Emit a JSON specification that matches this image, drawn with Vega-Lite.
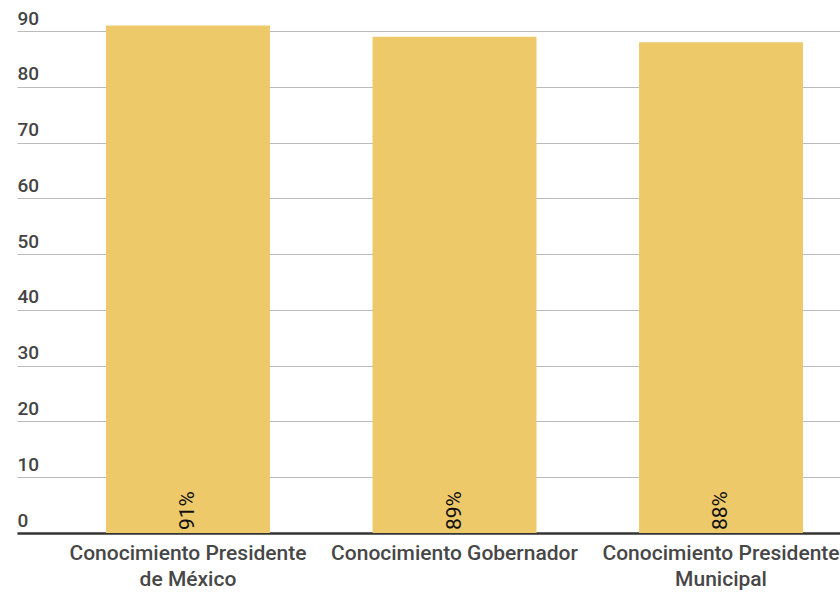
{
  "$schema": "https://vega.github.io/schema/vega-lite/v6.json",
  "autosize": "none",
  "padding": {"left": 17, "top": 20, "right": 0, "bottom": 60},
  "width": 823,
  "height": 513,
  "background": "white",
  "config": {"view": {"stroke": null}, "font": "Roboto"},
  "data": {"values": [
    {"categoria": "Conocimiento Presidente de México", "valor": 91},
    {"categoria": "Conocimiento Gobernador", "valor": 89},
    {"categoria": "Conocimiento Presidente Municipal", "valor": 88}
  ]},
  "encoding": {
    "x": {
      "field": "categoria", "type": "nominal", "sort": null,
      "scale": {"range": [0, 875], "paddingInner": 0.385, "paddingOuter": 0.334},
      "axis": {
        "title": null, "labelAngle": 0, "ticks": false,
        "domainColor": "#333", "domainWidth": 2.5,
        "labelFont": "Roboto", "labelFontSize": 21, "labelFontWeight": 500,
        "labelColor": "#474747", "labelPadding": 9, "labelLineHeight": 26,
        "labelBaseline": "top", "labelLimit": 400,
        "labelExpr": "datum.value == 'Conocimiento Presidente de México' ? ['Conocimiento Presidente', 'de México'] : datum.value == 'Conocimiento Presidente Municipal' ? ['Conocimiento Presidente', 'Municipal'] : datum.value"
      }
    }
  },
  "layer": [
    {
      "mark": {"type": "bar", "color": "#EEC96A"},
      "encoding": {
        "y": {
          "field": "valor", "type": "quantitative",
          "scale": {"domain": [0, 92], "nice": false},
          "axis": {
            "title": null, "values": [0,10,20,30,40,50,60,70,80,90],
            "domain": false, "ticks": false, "tickSize": 0,
            "grid": true, "gridColor": "#bbb", "gridWidth": 1.2,
            "labelAlign": "left", "labelPadding": 0, "labelBaseline": "alphabetic",
            "labelOffset": -7, "labelFont": "Roboto", "labelFontSize": 19,
            "labelFontWeight": 500, "labelColor": "#444"
          }
        }
      }
    },
    {
      "mark": {"type": "text", "angle": 270, "align": "left", "baseline": "middle", "dx": 3, "fontSize": 21, "font": "Roboto", "color": "#111", "text": {"expr": "datum.valor + '%'"}},
      "encoding": {
        "y": {"datum": 0, "type": "quantitative"}
      }
    }
  ]
}
